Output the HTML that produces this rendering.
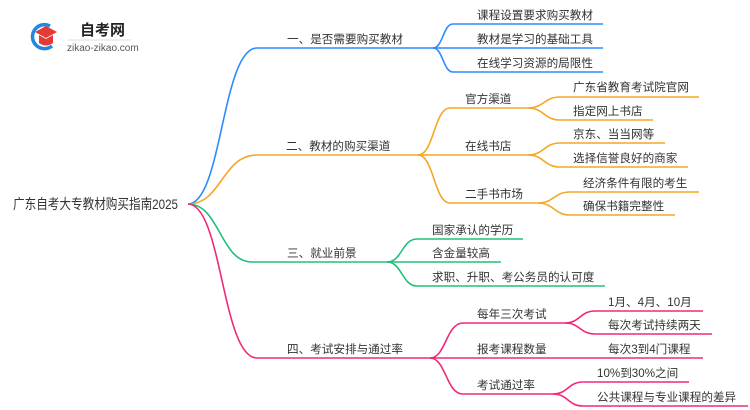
<!DOCTYPE html>
<html><head><meta charset="utf-8"><style>
html,body{margin:0;padding:0;background:#fff;width:750px;height:410px;overflow:hidden}
svg text{font-family:"Liberation Sans","Noto Sans CJK SC",sans-serif;fill:#333;font-size:11.6px}
</style></head><body>
<svg width="750" height="410" viewBox="0 0 750 410" xmlns="http://www.w3.org/2000/svg">
<!-- logo -->
<path d="M50 26 A12 12 0 1 0 52 46" fill="none" stroke="#1e88e5" stroke-width="3.5"/>
<path d="M35 32 L46 26 L57 32 L46 38 Z" fill="#e53935"/>
<path d="M39 35 L39 43 Q46 48 53 43 L53 35 L46 39 Z" fill="#e53935"/>
<text x="80" y="35" style="font-size:15px;font-weight:bold;fill:#222">自考网</text>
<line x1="68" y1="40" x2="131" y2="40" stroke="#ddd" stroke-width="1"/>
<text x="67" y="51" style="font-size:10px;fill:#555">zikao-zikao.com</text>

<g fill="none" stroke-width="1.6">
<g stroke="#2b8cff">
<path d="M188 204 C222 204 222 48 257 48 H433"/>
<path d="M433 48 C443 48 443 24 453 24 H603"/>
<path d="M433 48 H603"/>
<path d="M433 48 C443 48 443 72 453 72 H603"/>
</g>
<g stroke="#f5a623">
<path d="M188 204 C222 204 222 155 257 155 H418"/>
<path d="M418 155 C434 155 434 108 450 108 H528"/>
<path d="M418 155 H528"/>
<path d="M418 155 C434 155 434 203 450 203 H538"/>
<path d="M528 108 C544 108 544 97 560 97 H699"/>
<path d="M528 108 C544 108 544 120 560 120 H653"/>
<path d="M528 155 C544 155 544 143 560 143 H665"/>
<path d="M528 155 C544 155 544 167 560 167 H688"/>
<path d="M538 203 C554 203 554 192 570 192 H699"/>
<path d="M538 203 C554 203 554 215 570 215 H675"/>
</g>
<g stroke="#20c07a">
<path d="M188 204 C220 204 220 262 252 262 H387"/>
<path d="M387 262 C402 262 402 239 417 239 H523"/>
<path d="M387 262 H501"/>
<path d="M387 262 C402 262 402 286 417 286 H605"/>
</g>
<g stroke="#f0287a">
<path d="M188 204 C222 204 222 358 257 358 H430"/>
<path d="M430 358 C446 358 446 323 463 323 H565"/>
<path d="M430 358 H703"/>
<path d="M430 358 C446 358 446 394 463 394 H553"/>
<path d="M565 323 C580 323 580 311 595 311 H703"/>
<path d="M565 323 C580 323 580 334 595 334 H712"/>
<path d="M553 394 C568 394 568 382 583 382 H689"/>
<path d="M553 394 C568 394 568 406 583 406 H748"/>
</g>
</g>

<text x="13" y="209" textLength="165" lengthAdjust="spacingAndGlyphs" style="font-size:14px">广东自考大专教材购买指南2025</text>

<text x="287" y="43">一、是否需要购买教材</text>
<text x="477" y="19">课程设置要求购买教材</text>
<text x="477" y="43">教材是学习的基础工具</text>
<text x="477" y="67">在线学习资源的局限性</text>

<text x="286" y="150">二、教材的购买渠道</text>
<text x="465" y="103">官方渠道</text>
<text x="465" y="150">在线书店</text>
<text x="465" y="198">二手书市场</text>
<text x="573" y="91">广东省教育考试院官网</text>
<text x="573" y="115">指定网上书店</text>
<text x="573" y="138">京东、当当网等</text>
<text x="573" y="162">选择信誉良好的商家</text>
<text x="583" y="187">经济条件有限的考生</text>
<text x="583" y="210">确保书籍完整性</text>

<text x="287" y="257">三、就业前景</text>
<text x="432" y="234">国家承认的学历</text>
<text x="432" y="257">含金量较高</text>
<text x="432" y="281">求职、升职、考公务员的认可度</text>

<text x="287" y="353">四、考试安排与通过率</text>
<text x="477" y="318">每年三次考试</text>
<text x="477" y="353">报考课程数量</text>
<text x="477" y="389">考试通过率</text>
<text x="608" y="306">1月、4月、10月</text>
<text x="608" y="329">每次考试持续两天</text>
<text x="608" y="353">每次3到4门课程</text>
<text x="597" y="377">10%到30%之间</text>
<text x="597" y="401">公共课程与专业课程的差异</text>
</svg>
</body></html>
